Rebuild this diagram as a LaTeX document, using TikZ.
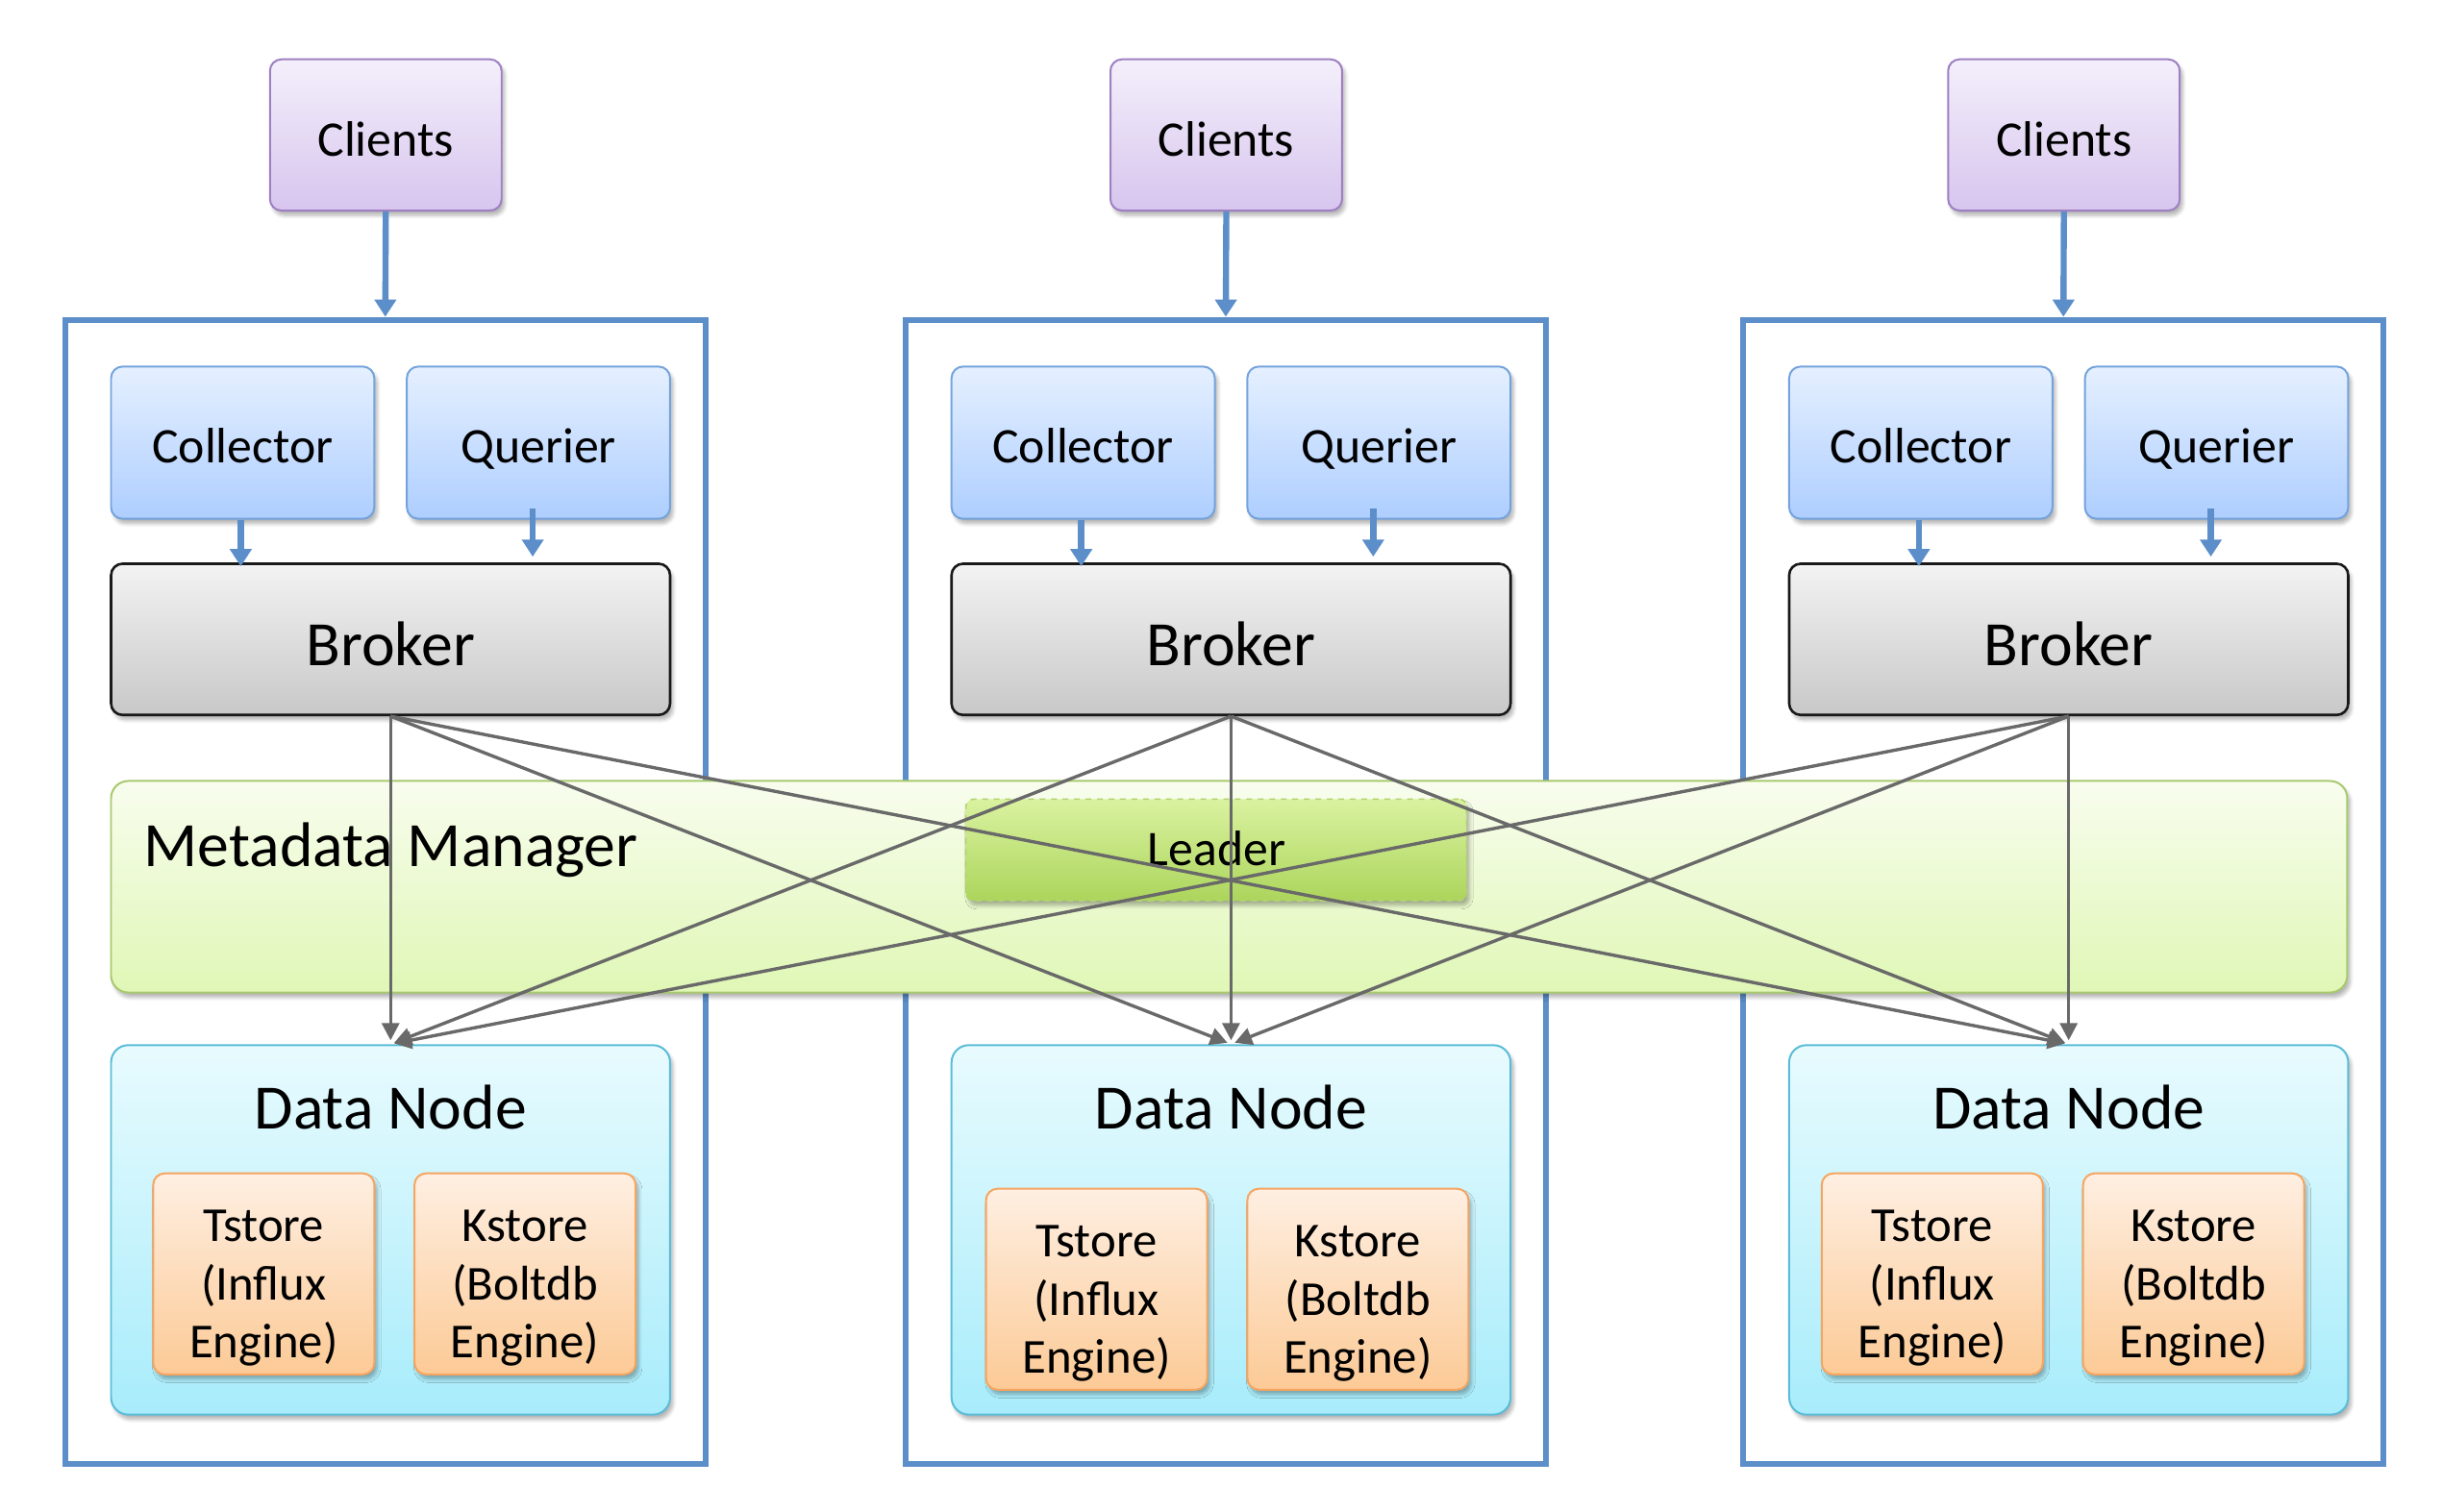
\documentclass[tikz,border=0pt]{standalone}
\usepackage{fontspec}
\setmainfont{Carlito}
\usetikzlibrary{arrows.meta,shadows.blur,calc}
\definecolor{framec}{RGB}{92,143,201}
\definecolor{clb}{RGB}{158,127,194}
\definecolor{clt}{RGB}{244,239,251}
\definecolor{clbo}{RGB}{215,197,238}
\definecolor{cob}{RGB}{116,163,220}
\definecolor{cot}{RGB}{229,240,255}
\definecolor{cobo}{RGB}{174,206,255}
\definecolor{brt}{RGB}{243,243,243}
\definecolor{brbo}{RGB}{200,200,200}
\definecolor{mmb}{RGB}{168,201,110}
\definecolor{mmt}{RGB}{248,253,238}
\definecolor{mmbo}{RGB}{224,247,182}
\definecolor{ldb}{RGB}{178,210,112}
\definecolor{ldt}{RGB}{218,242,160}
\definecolor{ldbo}{RGB}{172,213,92}
\definecolor{dnb}{RGB}{90,188,216}
\definecolor{dnt}{RGB}{232,251,254}
\definecolor{dnbo}{RGB}{168,236,251}
\definecolor{stb}{RGB}{246,165,96}
\definecolor{stt}{RGB}{254,239,226}
\definecolor{stbo}{RGB}{252,202,150}
\definecolor{linec}{RGB}{105,105,105}
\tikzset{
  shad/.style={blur shadow={shadow xshift=1.5pt,shadow yshift=-2.5pt,shadow blur steps=6,shadow opacity=30}},
  clientbox/.style={shad,rounded corners=6pt,draw=clb,line width=1pt,top color=clt,bottom color=clbo,minimum width=121pt,minimum height=79pt,inner sep=0pt,font=\fontsize{26}{30}\selectfont,text height=22pt,text depth=0pt},
  compbox/.style={shad,rounded corners=6pt,draw=cob,line width=1pt,top color=cot,bottom color=cobo,minimum width=137.5pt,minimum height=79.5pt,inner sep=0pt,font=\fontsize{26}{30}\selectfont,text height=21.4pt,text depth=0pt},
  brokerbox/.style={shad,rounded corners=6pt,draw=black!90,line width=1.3pt,top color=brt,bottom color=brbo,minimum width=292pt,minimum height=79pt,inner sep=0pt,font=\fontsize{33}{38}\selectfont,text height=27.3pt,text depth=0pt},
  framebox/.style={draw=framec,line width=3pt,minimum width=334.5pt,minimum height=598pt,inner sep=0pt},
  mmbox/.style={shad,rounded corners=9pt,draw=mmb,line width=1pt,top color=mmt,bottom color=mmbo,minimum width=1168pt,minimum height=110.5pt,inner sep=0pt},
  leaderbox/.style={shad,rounded corners=4pt,draw=ldb,dashed,line width=0.8pt,top color=ldt,bottom color=ldbo,minimum width=261.5pt,minimum height=53pt,inner sep=0pt},
  dnbox/.style={shad,rounded corners=9pt,draw=dnb,line width=1pt,top color=dnt,bottom color=dnbo,minimum width=292pt,minimum height=193pt,inner sep=0pt},
  storebox/.style={shad,rounded corners=6pt,draw=stb,line width=1pt,top color=stt,bottom color=stbo,minimum width=115.5pt,minimum height=105pt,inner sep=0pt},
  storetext/.style={inner sep=0pt,align=center,font=\fontsize{25.5}{30.5}\selectfont},
  bigtext/.style={font=\fontsize{33}{38}\selectfont,inner sep=0pt},
  bluearrow/.style={draw=framec,line width=3.2pt,-{Triangle[length=9pt,width=11pt]}},
  grayarrow/.style={draw=linec,line width=1.7pt,-{Triangle[length=9pt,width=9pt]},shorten >=2pt},
}
\begin{document}
\begin{tikzpicture}[x=0.5pt,y=-0.5pt]
\useasboundingbox (0,0) rectangle (2551,1579);
\foreach \i/\dx/\sx/\sy in {1/0/0/0,2/878/-8/16,3/1753/-10/0}{
  \node[framebox] (fr\i) at (402.5+\dx,932) {};
  \node[clientbox] (cli\i) at (403+\dx,141) {Clients};
  \node[compbox] (col\i) at (253.5+\dx,462.5) {Collector};
  \node[compbox] (que\i) at (562.5+\dx,462.5) {Querier};
  \node[brokerbox] (br\i) at (408+\dx,668) {Broker};
  \node[dnbox] (dn\i) at (408+\dx,1285) {};
  \node[bigtext,anchor=base] (dnt\i) at (408+\dx,1180) {Data Node};
  \node[storebox] (ts\i) at (275.5+\dx+\sx,1331+\sy) {};
  \node[storebox] (ks\i) at (548.5+\dx+\sx,1331+\sy) {};
  \node[storetext] (tst\i) at ([yshift=-7.5pt]ts\i.center) {Tstore\\(Influx\\Engine)};
  \node[storetext] (kst\i) at ([yshift=-7.5pt]ks\i.center) {Kstore\\(Boltdb\\Engine)};
  \draw[bluearrow] (cli\i.south) -- (fr\i.north);
  \draw[bluearrow] ([xshift=-1pt]col\i.south) -- ([xshift=-1pt,yshift=-2pt]col\i.south |- br\i.north);
  \draw[bluearrow] ([xshift=-3pt,yshift=6pt]que\i.south) -- ([xshift=-3pt,yshift=3pt]que\i.south |- br\i.north);
}
\node[mmbox] (mm) at (1284,926.5) {};
\node[bigtext,anchor=base west] (mmtext) at (150,905) {Metadata Manager};
\node[leaderbox] (ld) at (1270.5,888) {};
\node[font=\fontsize{26}{30}\selectfont,inner sep=0pt,anchor=base] (ldtext) at (1271,904) {Leader};
\foreach \a in {1,2,3}{
  \foreach \b in {1,2,3}{
    \draw[grayarrow] (br\a.south) -- (dn\b.north);
  }
}
\end{tikzpicture}
\end{document}
